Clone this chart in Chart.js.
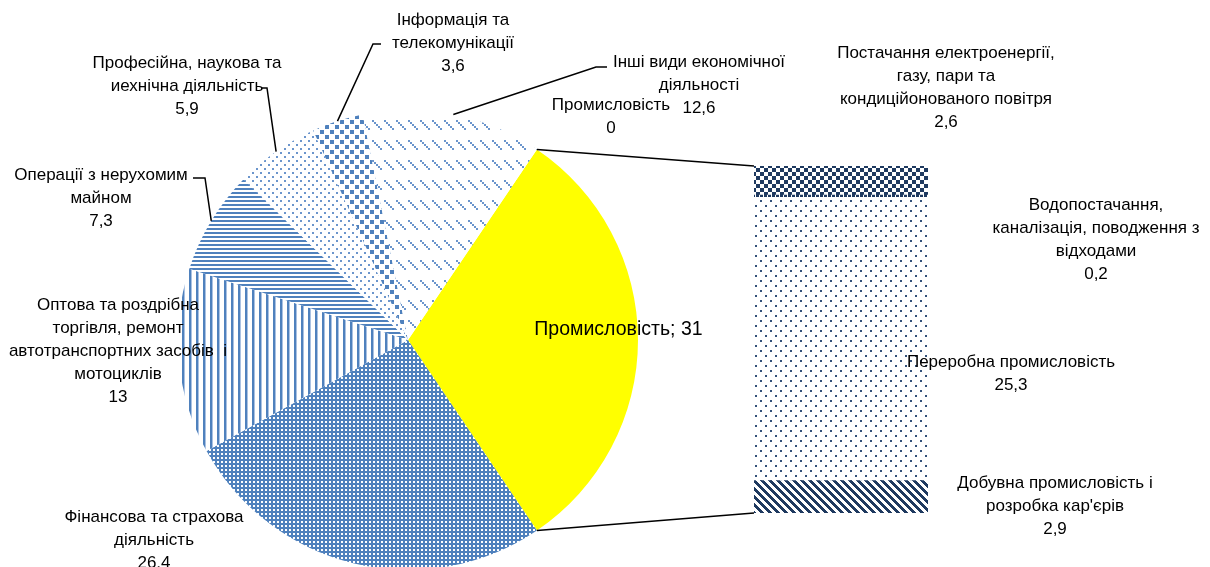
<!DOCTYPE html>
<html>
<head>
<meta charset="utf-8">
<script src="https://cdn.jsdelivr.net/npm/chart.js@4.4.1/dist/chart.umd.min.js"></script>
<style>
  html, body { margin: 0; padding: 0; width: 1210px; height: 567px; overflow: hidden; background: #fff; }
  canvas { position: absolute; left: 0; top: 0; }
</style>
</head>
<body>
<canvas id="pieCanvas" width="816" height="680"></canvas>
<canvas id="barCanvas" width="1210" height="567"></canvas>
<script>
// main pie, clockwise from the aggregated slice
const pieLabels = [
  ["Промисловість"],
  ["Фінансова та страхова", "діяльність"],
  ["Оптова та роздрібна", "торгівля, ремонт", "автотранспортних засобів  і", "мотоциклів"],
  ["Операції з нерухомим", "майном"],
  ["Професійна, наукова та", "иехнічна діяльність"],
  ["Інформація та", "телекомунікації"],
  ["Інші види економічної", "діяльності"],
  ["Промисловість"]
];
const pieValues = [31, 26.4, 13, 7.3, 5.9, 3.6, 12.6, 0];

// breakdown bar, bottom to top
const barLabels = [
  ["Добувна промисловість і", "розробка кар'єрів"],
  ["Переробна промисловість"],
  ["Водопостачання,", "каналізація, поводження з", "відходами"],
  ["Постачання електроенергії,", "газу, пари та", "кондиційонованого повітря"]
];
const barValues = [2.9, 25.3, 0.2, 2.6];

// label placement (centre of first text line) and leader ticks
const pieLabelPos = [
  null,
  { x: 154, y: 517 },
  { x: 118, y: 305 },
  { x: 101, y: 175, tick: [[193, 178], [205, 178]] },
  { x: 187, y: 63, tick: [[261, 88], [267, 88]] },
  { x: 453, y: 20, tick: [[381, 44], [373, 44]] },
  { x: 699, y: 62, tick: [[607, 67], [596, 67]] },
  { x: 611, y: 105 }
];
const barLabelPos = [
  { x: 1055, y: 483 },
  { x: 1011, y: 362 },
  { x: 1096, y: 205 },
  { x: 946, y: 53 }
];

const BLUE = "#4f81bd";
const NAVY = "#1f3a60";
const FONT = '17px "Liberation Sans", Arial, sans-serif';
const BIG_FONT = '19.5px "Liberation Sans", Arial, sans-serif';
const LINE_H = 23.2;

function makePattern(ctx, w, h, color, test, bg) {
  const c = document.createElement("canvas");
  c.width = w;
  c.height = h;
  const g = c.getContext("2d");
  g.fillStyle = bg || "#ffffff";
  g.fillRect(0, 0, w, h);
  for (let y = 0; y < h; y++) {
    for (let x = 0; x < w; x++) {
      const r = test(x, y);
      if (!r) continue;
      g.fillStyle = r === true ? color : r;
      g.fillRect(x, y, 1, 1);
    }
  }
  return ctx.createPattern(c, "repeat");
}

function fmt(v) {
  return String(v).replace(".", ",");
}

function dot(x, y, ox, oy, s) {
  return x >= ox && x < ox + s && y >= oy && y < oy + s;
}

const pieCtx = document.getElementById("pieCanvas").getContext("2d");
const barCtx = document.getElementById("barCanvas").getContext("2d");

const pieFills = [
  "#ffff00",
  makePattern(pieCtx, 4, 4, "#ffffff", (x, y) => dot(x, y, 1, 1, 2), BLUE),
  makePattern(pieCtx, 7, 1, BLUE, (x) => x < 2 ? true : (x === 2 ? "#a9c1e2" : false)),
  makePattern(pieCtx, 1, 4, BLUE, (x, y) => y < 2),
  makePattern(pieCtx, 8, 8, "#6b95cc", (x, y) => dot(x, y, 0, 0, 2) || dot(x, y, 4, 4, 2)),
  makePattern(pieCtx, 10, 10, BLUE, (x, y) => dot(x, y, 0, 0, 4) || dot(x, y, 5, 5, 4)),
  makePattern(pieCtx, 12, 20, "#6b95cc", (x, y) => y < 10 && Math.floor(x / 2) === Math.floor(y / 2)),
  "#ffffff"
];

const barFills = [
  makePattern(barCtx, 8, 8, NAVY, (x, y) => ((x - y) % 8 + 8) % 8 < 4),
  makePattern(barCtx, 10, 10, "#34527a", (x, y) => dot(x, y, 0, 0, 2) || dot(x, y, 5, 5, 2)),
  makePattern(barCtx, 4, 1, NAVY, (x) => x < 3),
  makePattern(barCtx, 8, 8, NAVY, (x, y) => (x < 4) !== (y < 4))
];

const pieTotal = pieValues.reduce((a, b) => a + b, 0);
const pieRotation = 90 - (pieValues[0] / pieTotal) * 180;

const pieChart = new Chart(pieCtx, {
  type: "pie",
  data: {
    labels: pieLabels,
    datasets: [{
      data: pieValues,
      backgroundColor: pieFills,
      borderWidth: 0,
      hoverOffset: 0
    }]
  },
  options: {
    responsive: false,
    animation: false,
    rotation: pieRotation,
    layout: { padding: { left: 178, right: 178, top: 110, bottom: 110 } },
    plugins: {
      legend: { display: false },
      tooltip: { enabled: false }
    }
  }
});

function drawLines(ctx, lines, x, y) {
  lines.forEach((t, i) => ctx.fillText(t, x, y + i * LINE_H));
}

const annotate = {
  id: "annotate",
  afterDraw(chart) {
    const ctx = chart.ctx;
    const arcs = pieChart.getDatasetMeta(0).data;
    const first = arcs[0];
    const cx = first.x, cy = first.y, R = first.outerRadius;

    // bar edges
    const bottomBar = chart.getDatasetMeta(0).data[0];
    const topBar = chart.getDatasetMeta(barValues.length - 1).data[0];
    const barLeft = bottomBar.x - bottomBar.width / 2;

    ctx.save();
    ctx.strokeStyle = "#000";
    ctx.lineWidth = 1.5;

    // connectors pie -> bar
    ctx.beginPath();
    ctx.moveTo(cx + Math.cos(first.startAngle) * R, cy + Math.sin(first.startAngle) * R);
    ctx.lineTo(barLeft, topBar.y);
    ctx.moveTo(cx + Math.cos(first.endAngle) * R, cy + Math.sin(first.endAngle) * R);
    ctx.lineTo(barLeft, bottomBar.base);
    ctx.stroke();

    // leader lines
    pieLabelPos.forEach((p, i) => {
      if (!p || !p.tick) return;
      const a = (arcs[i].startAngle + arcs[i].endAngle) / 2;
      ctx.beginPath();
      ctx.moveTo(p.tick[0][0], p.tick[0][1]);
      ctx.lineTo(p.tick[1][0], p.tick[1][1]);
      ctx.lineTo(cx + Math.cos(a) * R, cy + Math.sin(a) * R);
      ctx.stroke();
    });

    ctx.fillStyle = "#000";
    ctx.textAlign = "center";
    ctx.textBaseline = "middle";

    // aggregated slice label inside
    ctx.font = BIG_FONT;
    const a0 = (first.startAngle + first.endAngle) / 2;
    ctx.fillText(pieLabels[0][0] + "; " + fmt(pieValues[0]),
      cx + Math.cos(a0) * R * 0.915, cy + Math.sin(a0) * R * 0.915 - 10);

    ctx.font = FONT;
    pieLabelPos.forEach((p, i) => {
      if (!p) return;
      drawLines(ctx, pieLabels[i].concat([fmt(pieValues[i])]), p.x, p.y);
    });
    barLabelPos.forEach((p, i) => {
      drawLines(ctx, barLabels[i].concat([fmt(barValues[i])]), p.x, p.y);
    });
    ctx.restore();
  }
};

new Chart(barCtx, {
  type: "bar",
  data: {
    labels: [""],
    datasets: barValues.map((v, i) => ({
      label: barLabels[i].join(" "),
      data: [v],
      backgroundColor: barFills[i],
      borderWidth: 0,
      barPercentage: 1,
      categoryPercentage: 1
    }))
  },
  options: {
    responsive: false,
    animation: false,
    layout: { padding: { left: 754, right: 282, top: 166, bottom: 54 } },
    scales: {
      x: { stacked: true, display: false },
      y: { stacked: true, display: false, min: 0, max: barValues.reduce((a, b) => a + b, 0) }
    },
    plugins: {
      legend: { display: false },
      tooltip: { enabled: false }
    }
  },
  plugins: [annotate]
});
</script>
</body>
</html>
